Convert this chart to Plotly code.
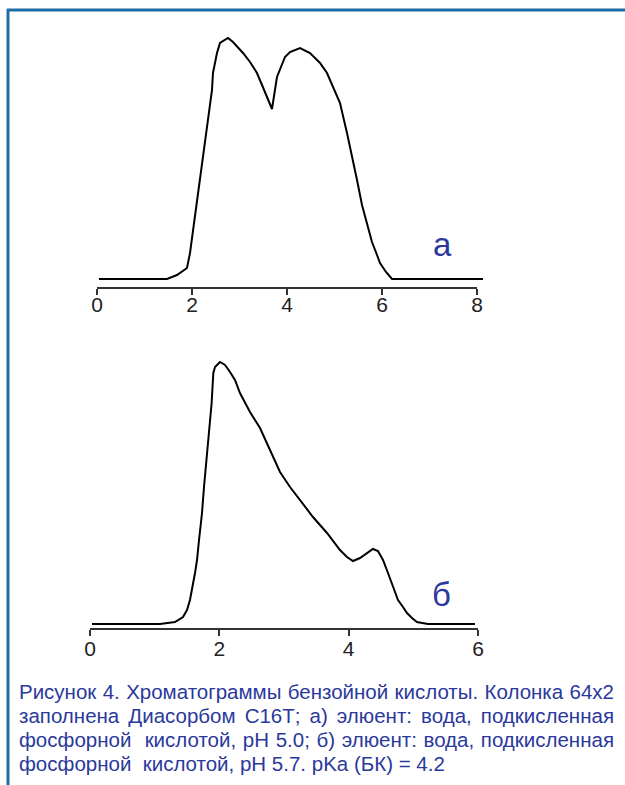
import plotly.graph_objects as go

W, H = 625, 785

# Chromatogram а (pH 5.0): retention time (min) vs detector signal (arb. units)
time_a = [0.04, 1.474, 1.684, 1.895, 1.958, 2.063, 2.168, 2.253, 2.316, 2.337, 2.421, 2.442,
          2.526, 2.589, 2.695, 2.758, 2.863, 3.074, 3.221, 3.368, 3.474, 3.579, 3.684,
          3.789, 3.853, 3.958, 4.063, 4.274, 4.484, 4.695, 4.842, 4.968, 5.116, 5.263,
          5.368, 5.474, 5.579, 5.684, 5.789, 5.895, 5.958, 6.084, 6.211, 8.126]
signal_a = [0, 0, 4, 11, 26, 63, 100, 130, 155, 165, 189, 206,
            226, 236, 239, 241, 237, 226, 217, 206, 194, 182, 170,
            202, 209, 222, 227, 231, 226, 216, 206, 192, 176, 146,
            124, 99, 74, 54, 37, 24, 16, 7, 0, 0]

# Chromatogram б (pH 5.7)
time_b = [0.031, 1.082, 1.314, 1.438, 1.500, 1.546, 1.624, 1.655, 1.686, 1.732, 1.763, 1.809,
          1.840, 1.881, 1.907, 1.933, 2.010, 2.088, 2.165, 2.242, 2.319, 2.474, 2.629,
          2.783, 2.938, 3.093, 3.247, 3.448, 3.665, 3.866, 3.974, 4.067, 4.175, 4.283,
          4.376, 4.453, 4.531, 4.608, 4.685, 4.763, 4.840, 4.902, 4.979, 5.056, 5.227, 5.953]
signal_b = [0, 0, 2, 7, 14, 24, 51, 64, 84, 111, 137, 167,
            191, 221, 251, 257, 262, 259, 252, 244, 231, 212, 196,
            174, 152, 137, 124, 107, 91, 74, 67, 63, 66, 71,
            75, 73, 64, 51, 38, 24, 17, 11, 6, 2, 0, 0]

ticks_a = [0, 2, 4, 6, 8]
ticks_b = [0, 2, 4, 6]

caption_lines = [
    "Рисунок 4. Хроматограммы бензойной кислоты. Колонка 64х2",
    "заполнена Диасорбом С16Т; а) элюент: вода, подкисленная",
    "фосфорной  кислотой, pH 5.0; б) элюент: вода, подкисленная",
    "фосфорной  кислотой, pH 5.7. pKa (БК) = 4.2",
]


def fx(px):
    return px / W


def fy(py):
    return 1 - py / H


BLUE = "#2b399c"
FRAME = "#1c6ea4"
AXIS = "#333333"

fig = go.Figure()
fig.add_trace(go.Scatter(x=time_a, y=signal_a, mode="lines",
                         line=dict(color="black", width=2), xaxis="x", yaxis="y",
                         showlegend=False, hoverinfo="skip"))
fig.add_trace(go.Scatter(x=time_b, y=signal_b, mode="lines",
                         line=dict(color="black", width=2), xaxis="x2", yaxis="y2",
                         showlegend=False, hoverinfo="skip"))

tickfont = dict(family="Liberation Sans, Arial", size=21, color="#222222")
common_x = dict(showgrid=False, zeroline=False, showline=False, ticks="outside",
                ticklen=6, tickwidth=2, tickcolor=AXIS, tickfont=tickfont, fixedrange=True)

fig.update_layout(
    width=W, height=H,
    margin=dict(l=0, r=0, t=0, b=0),
    paper_bgcolor="white", plot_bgcolor="white",
    xaxis=dict(domain=[fx(97 - 0.1 * 47.5), fx(97 + 8.2 * 47.5)], range=[-0.1, 8.2],
               tickvals=ticks_a, anchor="y", ticklabelstandoff=-8, **common_x),
    yaxis=dict(domain=[fy(288), fy(30)], range=[-9, 249], visible=False, fixedrange=True),
    xaxis2=dict(domain=[fx(90 - 0.1 * 64.67), fx(478 + 0.1 * 64.67)], range=[-0.1, 6.1],
                tickvals=ticks_b, anchor="y2", ticklabelstandoff=-5, **common_x),
    yaxis2=dict(domain=[fy(629), fy(350)], range=[-5, 274], visible=False, fixedrange=True),
)

# axis lines
fig.add_shape(type="line", xref="x", yref="y domain", x0=0, x1=8, y0=0, y1=0,
              line=dict(color=AXIS, width=2))
fig.add_shape(type="line", xref="x2", yref="y2 domain", x0=0, x1=6, y0=0, y1=0,
              line=dict(color=AXIS, width=2))

# frame (top and left blue border)
fig.add_shape(type="line", xref="paper", yref="paper", x0=fx(7), x1=1, y0=fy(10), y1=fy(10),
              line=dict(color=FRAME, width=3))
fig.add_shape(type="line", xref="paper", yref="paper", x0=fx(8), x1=fx(8), y0=fy(9), y1=0,
              line=dict(color=FRAME, width=3))

# panel labels
fig.add_annotation(xref="paper", yref="paper", x=fx(442), y=fy(245), text="а",
                   xanchor="center", yanchor="middle", showarrow=False,
                   font=dict(family="Liberation Sans, Arial", size=33, color=BLUE))
fig.add_annotation(xref="paper", yref="paper", x=fx(441), y=fy(594), text="б",
                   xanchor="center", yanchor="middle", showarrow=False,
                   font=dict(family="Liberation Sans, Arial", size=33, color=BLUE))

# caption
cap_y = [691, 715, 739, 763]
for line, py in zip(caption_lines, cap_y):
    fig.add_annotation(xref="paper", yref="paper", x=fx(17), y=fy(py), text=line,
                       showarrow=False, xanchor="left", yanchor="middle", align="left",
                       font=dict(family="Liberation Sans, Arial", size=20.5, color=BLUE))

post = """
document.body.style.margin = '0';
document.body.style.overflow = 'hidden';
[2, 3, 4].forEach(function (i) {
  var el = document.querySelector('g.annotation[data-index="' + i + '"] text.annotation-text');
  if (!el) return;
  var n = (el.textContent.match(/[ \\u00a0]/g) || []).length;
  var w = el.getComputedTextLength();
  if (n > 0 && w < 595) el.style.wordSpacing = ((595 - w) / n) + 'px';
});
"""

fig.write_html("out.html", post_script=post, config={"displayModeBar": False})
